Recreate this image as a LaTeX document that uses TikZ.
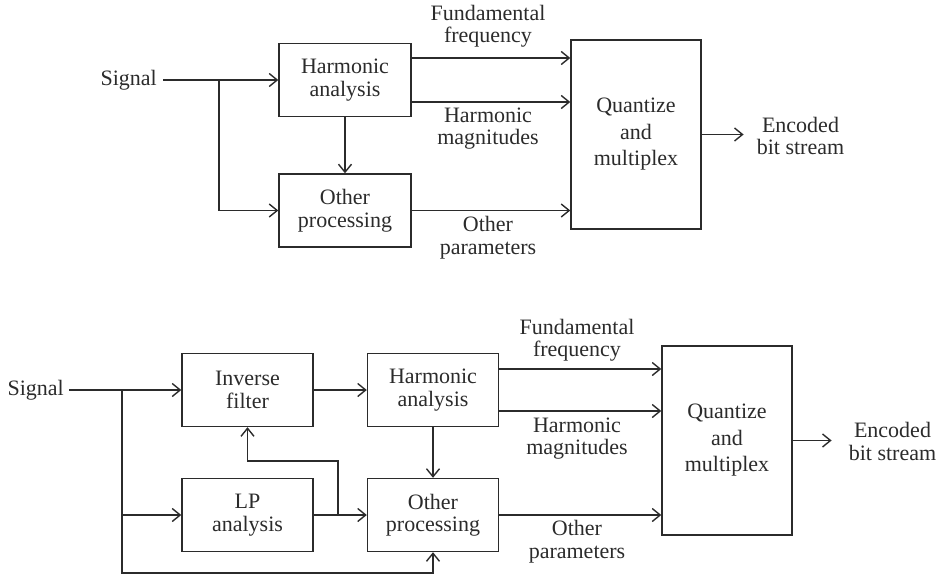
\documentclass[tikz,border=0pt]{standalone}
\usepackage{fontspec}
\setmainfont{Liberation Serif}
\usetikzlibrary{arrows.meta,calc}
\definecolor{ink}{HTML}{2B2B2B}
\begin{document}
\begin{tikzpicture}[x=1pt,y=-1pt,
  font=\fontsize{22}{22.5}\selectfont, text=ink,
  blk/.style={draw=ink,line width=1.4pt,minimum width=132pt,minimum height=73pt,inner sep=0pt,align=center},
  qbox/.style={blk,minimum width=130pt,minimum height=189pt,font=\fontsize{22}{26.5}\selectfont},
  lbl/.style={align=center,inner sep=0pt},
  arr/.style={draw=ink,line width=1.4pt,-{Straight Barb[length=8pt,width=13pt,line width=1.4pt]}},
  ln/.style={draw=ink,line width=1.4pt}]
\useasboundingbox (0,0) rectangle (936,575);

% ---------- top diagram ----------
\node[lbl,anchor=east,inner xsep=6pt] (sig1) at (163,80) {Signal};
\node[blk] (ha1) at (345,80) {Harmonic\\analysis};
\node[blk] (op1) at (345,210.5) {Other\\processing};
\node[qbox] (qm1) at (636,134.5) {Quantize\\and\\multiplex};
\node[lbl,inner xsep=13pt] (enc1) at (800.5,136) {Encoded\\bit stream};
\node[lbl] (ff1) at (488,26) {Fundamental\\frequency};
\node[lbl] (hm1) at (488,128.5) {Harmonic\\magnitudes};
\node[lbl] (opl1) at (488,237.5) {Other\\parameters};

\coordinate (b1) at (219,80);
\draw[arr] (sig1.east) -- (ha1.west);
\draw[arr] (b1) |- (op1.west);
\draw[arr] (ha1.south) -- (op1.north);
\coordinate (f1) at ($(ha1.east)+(0,-22)$);
\coordinate (m1) at ($(ha1.east)+(0,22)$);
\draw[arr] (f1) -- (f1 -| qm1.west);
\draw[arr] (m1) -- (m1 -| qm1.west);
\draw[arr] (op1.east) -- (op1.east -| qm1.west);
\draw[arr] (qm1.east) -- (qm1.east -| enc1.west);

% ---------- bottom diagram ----------
\node[lbl,anchor=east,inner xsep=5pt] (sig2) at (69,390) {Signal};
\node[blk,minimum width=131pt] (if2) at (247.5,390) {Inverse\\filter};
\node[blk,minimum width=131pt] (lp2) at (247.5,515) {LP\\analysis};
\node[blk,minimum width=131pt] (ha2) at (433,390) {Harmonic\\analysis};
\node[blk,minimum width=131pt] (op2) at (433,515) {Other\\processing};
\node[qbox] (qm2) at (727,440.5) {Quantize\\and\\multiplex};
\node[lbl,inner xsep=17pt] (enc2) at (892.5,441.5) {Encoded\\bit stream};
\node[lbl] (ff2) at (577,340) {Fundamental\\frequency};
\node[lbl] (hm2) at (577,438.5) {Harmonic\\magnitudes};
\node[lbl] (opl2) at (577,541.5) {Other\\parameters};

\coordinate (b2) at (122,390);
\coordinate (bb) at (122,573);
\coordinate (t2) at (338,515);
\coordinate (fb) at (338,461);
\draw[arr] (sig2.east) -- (if2.west);
\draw[arr] (if2.east) -- (ha2.west);
\draw[arr] (b2) |- (lp2.west);
\draw[arr] (b2) -- (bb) -| (op2.south);
\draw[arr] (lp2.east) -- (op2.west);
\draw[arr] (t2) -- (fb) -| (if2.south);
\draw[arr] (ha2.south) -- (op2.north);
\coordinate (f2) at ($(ha2.east)+(0,-21)$);
\coordinate (m2) at ($(ha2.east)+(0,21)$);
\draw[arr] (f2) -- (f2 -| qm2.west);
\draw[arr] (m2) -- (m2 -| qm2.west);
\draw[arr] (op2.east) -- (op2.east -| qm2.west);
\draw[arr] (qm2.east) -- (qm2.east -| enc2.west);
\end{tikzpicture}
\end{document}
